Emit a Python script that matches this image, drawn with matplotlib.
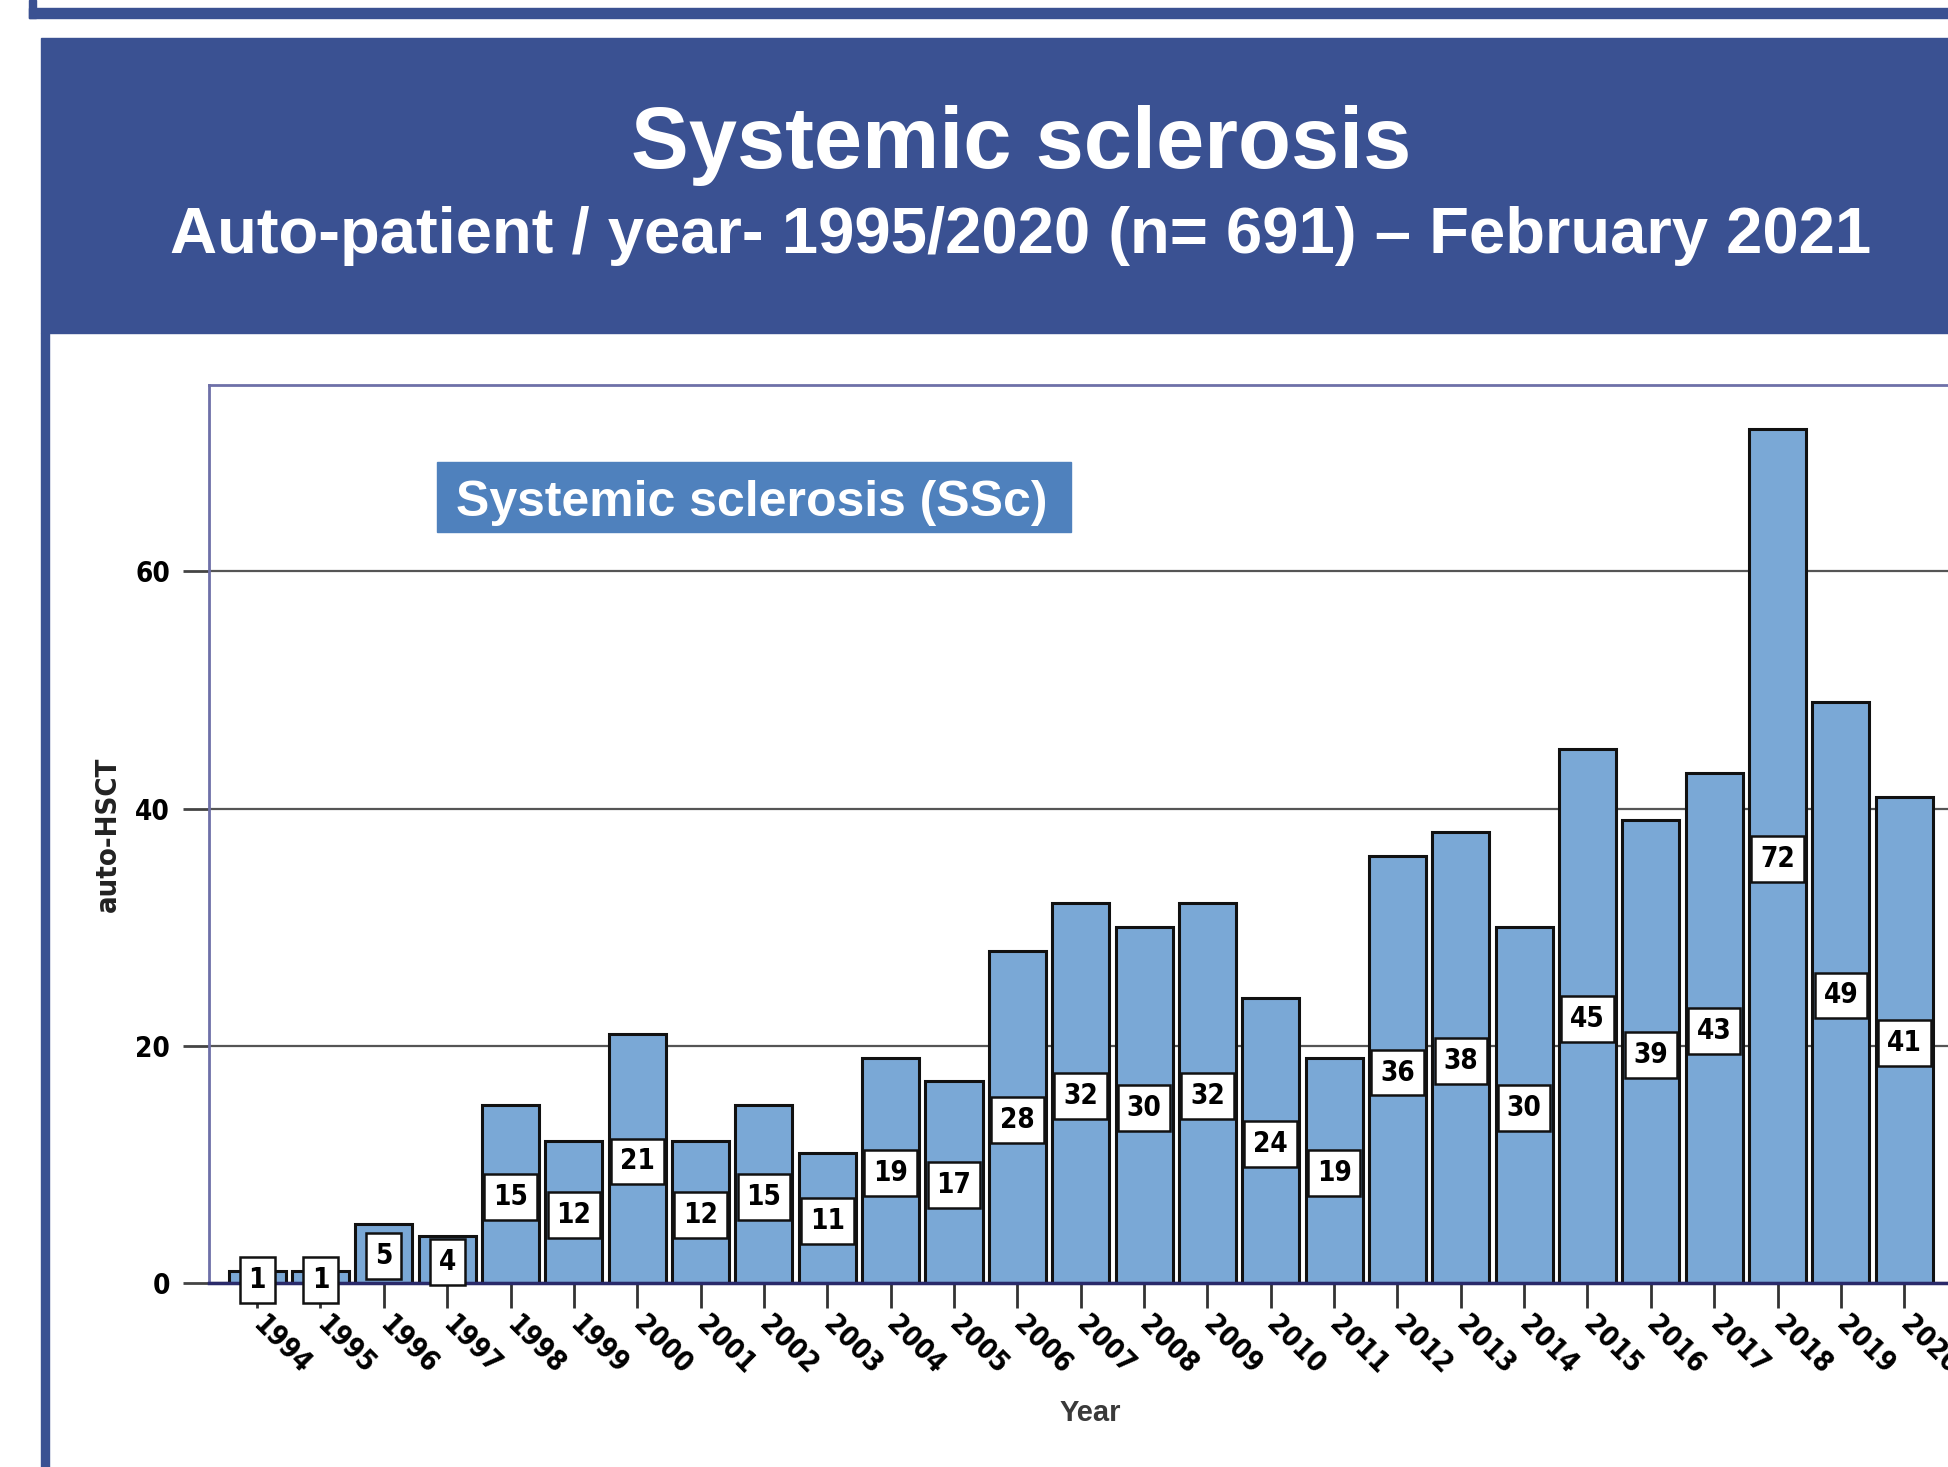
import matplotlib
matplotlib.use("Agg")
import matplotlib.pyplot as plt
from matplotlib.patches import Rectangle
from matplotlib import font_manager as fm
import os

years = [str(y) for y in range(1994, 2021)]
values = [1, 1, 5, 4, 15, 12, 21, 12, 15, 11, 19, 17, 28, 32, 30, 32, 24, 19,
          36, 38, 30, 45, 39, 43, 72, 49, 41]
yticks = [0, 20, 40, 60]
title = "Systemic sclerosis"
subtitle = "Auto-patient / year- 1995/2020 (n= 691) \u2013 February 2021"
legend_label = "Systemic sclerosis (SSc)"


def find_font(keys):
    files = [f.fname for f in fm.fontManager.ttflist]
    for k in keys:
        for fn in files:
            if os.path.basename(fn).lower() == k.lower():
                return fn
    return None


narrow_file = find_font(["LiberationSansNarrow-Bold.ttf", "DejaVuSansCondensed-Bold.ttf",
                         "RobotoCondensed-Bold.ttf"])


def nprop(size):
    if narrow_file:
        return fm.FontProperties(fname=narrow_file, size=size)
    return fm.FontProperties(family="Liberation Sans", weight="bold", size=size * 0.9)


sans = "Liberation Sans"

W, H = 1948, 1467
fig = plt.figure(figsize=(W / 100, H / 100), dpi=100)


def fx(px):
    return px / W


def fy(py):
    return 1 - py / H


navy = "#3a5192"
fig.patches.append(Rectangle((fx(29), fy(18)), 1.0, 10 / H,
                             transform=fig.transFigure, color=navy, zorder=0))
fig.patches.append(Rectangle((fx(29), fy(18)), 7 / W, 18 / H,
                             transform=fig.transFigure, color=navy, zorder=0))
fig.patches.append(Rectangle((fx(41), fy(333)), 1.0, (333 - 38) / H,
                             transform=fig.transFigure, color=navy, zorder=0))
fig.patches.append(Rectangle((fx(41), 0), 8 / W, fy(333),
                             transform=fig.transFigure, color=navy, zorder=0))

fig.text(fx(1021), fy(136), title, color="white", fontsize=62.5, fontweight="bold",
         family=sans, ha="center", va="center_baseline")
fig.text(fx(1021), fy(229), subtitle, color="white", fontsize=47, fontweight="bold",
         family=sans, ha="center", va="center_baseline")

x0, x1 = 209, 1960
y0, y1 = 385, 1283
ax = fig.add_axes([fx(x0), fy(y1), (x1 - x0) / W, (y1 - y0) / H])
ax.set_xlim(-0.76, -0.76 + (x1 - x0) / 63.35)
ax.set_ylim(0, (y1 - y0) / 11.86)

xs = list(range(len(years)))
ax.bar(xs, values, width=0.9, color="#7aa8d6", edgecolor="#111111", linewidth=2.2, zorder=3)

for x, v in zip(xs, values):
    ax.text(x, v / 2, str(v), ha="center", va="center_baseline", fontproperties=nprop(20),
            color="black", zorder=6, clip_on=False,
            bbox=dict(boxstyle="square,pad=0.32", fc="white", ec="#111111", lw=1.8))

ax.set_yticks(yticks)
ax.set_yticklabels([str(t) for t in yticks])
for lab in ax.get_yticklabels():
    lab.set_fontproperties(nprop(20))
ax.set_xticks(xs)
ax.set_xticklabels(years, rotation=-45, ha="left", va="center", rotation_mode="anchor")
for lab in ax.get_xticklabels():
    lab.set_fontproperties(nprop(20))
ax.tick_params(axis="y", length=19, width=2, color="#444444", pad=9)
ax.tick_params(axis="x", length=18, width=2, color="#333333", pad=9)

ax.grid(axis="y", color="#555555", linewidth=1.6, zorder=1)
ax.set_axisbelow(True)

for s in ["left", "top", "right"]:
    ax.spines[s].set_color("#6e70a8")
    ax.spines[s].set_linewidth(2)
ax.spines["bottom"].set_color("#2a2a6a")
ax.spines["bottom"].set_linewidth(2.5)
ax.spines["bottom"].set_zorder(4)

ax.set_ylabel("auto-HSCT", fontproperties=nprop(21), color="#222222")
ax.yaxis.set_label_coords((122 - x0) / (x1 - x0), 0.5)
fig.text(fx(1090), fy(1413), "Year", fontsize=21, fontweight="bold", family=sans,
         color="#3a3a3a", ha="center", va="center")

# legend-like label box
fig.patches.append(Rectangle((fx(437), fy(532)), (1071 - 437) / W, 70 / H,
                             transform=fig.transFigure, color="#4f81bd", zorder=5))
fig.text(fx(752), fy(498), legend_label, color="white", fontsize=36, fontweight="bold",
         family=sans, ha="center", va="center_baseline", zorder=10)

fig.savefig("out.png", dpi=100)
